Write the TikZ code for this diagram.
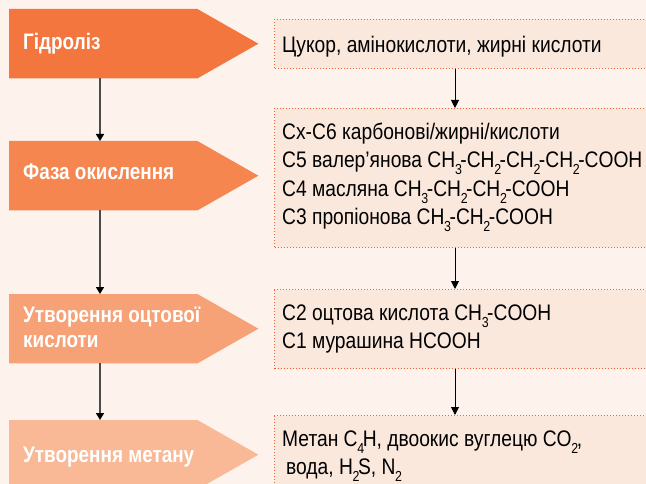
\documentclass[tikz,border=0pt]{standalone}
\usepackage{fontspec}
\setmainfont{Liberation Sans}[FakeStretch=0.855, BoldFeatures={FakeStretch=0.84}]
\usetikzlibrary{arrows.meta}
\definecolor{bg}{RGB}{253,243,236}
\definecolor{rfill}{RGB}{251,232,221}
\definecolor{dotc}{RGB}{240,95,45}
\definecolor{cA}{RGB}{242,118,62}
\definecolor{cB}{RGB}{245,134,80}
\definecolor{cC}{RGB}{247,161,118}
\definecolor{cD}{RGB}{249,185,150}
\definecolor{lline}{RGB}{75,75,75}
\newcommand\lo[1]{\kern-0.3pt\raisebox{-7pt}{\fontsize{14.5}{14.5}\selectfont #1}\kern-1.5pt}
\begin{document}
\begin{tikzpicture}[x=1pt,y=-1pt,
  lbox/.style={anchor=north west, minimum width=188pt, minimum height=69pt, inner sep=0pt, draw=none},
  rbox/.style={anchor=north west, minimum width=406pt, inner sep=0pt, fill=rfill, draw=dotc, line width=1pt, dash pattern=on 1pt off 2pt},
  ltxt/.style={anchor=base west, inner sep=0pt, text=white, font=\fontsize{22.5}{23}\selectfont\bfseries},
  rtxt/.style={anchor=base west, inner sep=0pt, text=black, font=\fontsize{22.5}{28}\selectfont},
  larr/.style={draw=lline, line width=1.6pt, -{Triangle[width=8pt,length=7pt,color=black]}},
  rarr/.style={draw=black, line width=1pt, -{Triangle[width=8pt,length=8pt]}}
]
\clip (0,0) rectangle (646,484);
\fill[bg] (0,0) rectangle (646,484);
\useasboundingbox (0,0) rectangle (646,484);
\coordinate (lx) at (100,0);
\coordinate (rx) at (455,0);
% left pentagons
\node[lbox] (l1) at (9,9) {};
\node[lbox] (l2) at (9,141) {};
\node[lbox] (l3) at (9,294) {};
\node[lbox] (l4) at (9,420) {};
\foreach \n/\c in {l1/cA,l2/cB,l3/cC,l4/cD}{
  \fill[\c] (\n.north west) -- (\n.north east) -- ([xshift=61pt]\n.east) -- (\n.south east) -- (\n.south west) -- cycle;
}
% right boxes
\node[rbox, minimum height=49pt] (r1) at (274,19) {};
\node[rbox, minimum height=139pt] (r2) at (274,108) {};
\node[rbox, minimum height=79pt] (r3) at (274,289) {};
\node[rbox, minimum height=85pt] (r4) at (274,415) {};
% connectors
\draw[larr] (l1.south -| lx) -- (l2.north -| lx);
\draw[larr] (l2.south -| lx) -- (l3.north -| lx);
\draw[larr] (l3.south -| lx) -- (l4.north -| lx);
\draw[rarr] (r1.south -| rx) -- (r2.north -| rx);
\draw[rarr] (r2.south -| rx) -- (r3.north -| rx);
\draw[rarr] (r3.south -| rx) -- (r4.north -| rx);
% left texts
\node[ltxt] (t1) at (23,50) {Гідроліз};
\node[ltxt] (t2) at (23,180) {Фаза окислення};
\node[ltxt] (t3a) at (23,323) {Утворення оцтової};
\node[ltxt] (t3b) at (23,347) {кислоти};
\node[ltxt] (t4) at (23,462) {Утворення метану};
% right texts
\node[rtxt] (s1) at (282,53) {Цукор, амінокислоти, жирні кислоти};
\node[rtxt] (s2a) at (282,140) {Cx-C6 карбонові/жирні/кислоти};
\node[rtxt] (s2b) at (282,168) {C5 валер’янова CH\lo{3}-CH\lo{2}-CH\lo{2}-CH\lo{2}-COOH};
\node[rtxt] (s2c) at (282,196.5) {C4 масляна CH\lo{3}-CH\lo{2}-CH\lo{2}-COOH};
\node[rtxt] (s2d) at (282,225) {C3 пропіонова CH\lo{3}-CH\lo{2}-COOH};
\node[rtxt] (s3a) at (282,320) {C2 оцтова кислота CH\lo{3}-COOH};
\node[rtxt] (s3b) at (282,348) {C1 мурашина HCOOH};
\node[rtxt] (s4a) at (282,446.5) {Метан C\lo{4}H, двоокис вуглецю CO\lo{2},};
\node[rtxt] (s4b) at (286,474) {вода, H\lo{2}S, N\lo{2}};
\end{tikzpicture}
\end{document}
